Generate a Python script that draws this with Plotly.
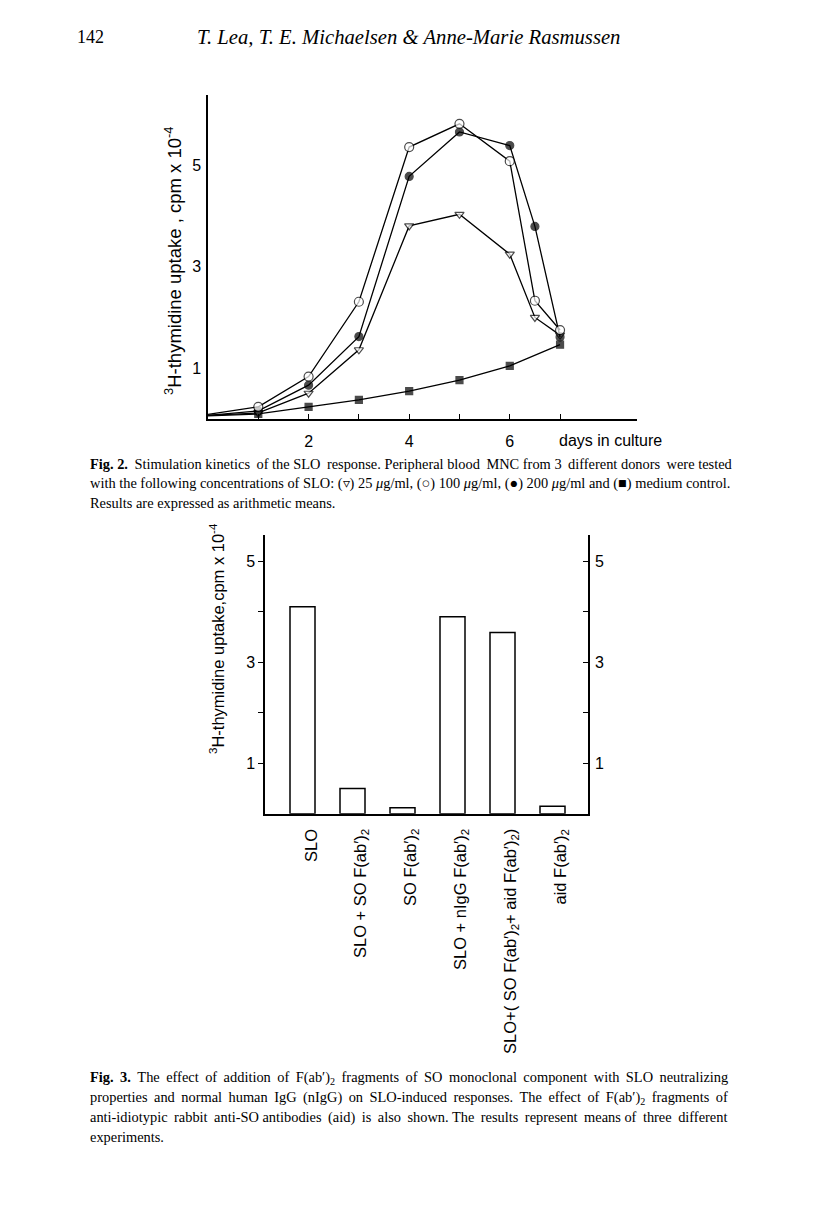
import plotly.graph_objects as go

# ---------------- data ----------------
# Fig. 2 : stimulation kinetics (cpm x 10^-4)
days_slo = [0, 1, 2, 3, 4, 5, 6, 6.5, 7]
slo_25 = [0.06, 0.11, 0.50, 1.36, 3.81, 4.04, 3.25, 2.00, 1.65]     # open triangle
slo_100 = [0.08, 0.23, 0.83, 2.31, 5.37, 5.83, 5.09, 2.33, 1.75]    # open circle
slo_200 = [0.06, 0.15, 0.66, 1.62, 4.79, 5.67, 5.40, 3.80, 1.61]    # filled circle
days_ctrl = [0, 1, 2, 3, 4, 5, 6, 7]
medium_ctrl = [0.05, 0.09, 0.23, 0.37, 0.54, 0.76, 1.04, 1.46]       # filled square

x1_major = [2, 4, 6]
x1_minor = [1, 3, 5, 7]
y_major = [1, 3, 5]
y_minor = [2, 4]

# Fig. 3 : bar chart
bar_labels = [
    "SLO",
    "SLO + SO F(ab′)<sub>2</sub>",
    "SO F(ab′)<sub>2</sub>",
    "SLO + nIgG F(ab′)<sub>2</sub>",
    "SLO+( SO F(ab′)<sub>2</sub>+ aid F(ab′)<sub>2</sub>)",
    "aid F(ab′)<sub>2</sub>",
]
bar_values = [4.10, 0.50, 0.12, 3.90, 3.59, 0.15]
bar_pos = list(range(len(bar_values)))

header_page = "142"
header_authors = "T. Lea, T. E. Michaelsen &amp; Anne-Marie Rasmussen"
title_fig2 = "<sup>3</sup>H-thymidine uptake , cpm x 10<sup>-4</sup>"
title_fig3 = "<sup>3</sup>H-thymidine uptake,cpm x 10<sup>-4</sup>"
cap2_lines = [
    "<b>Fig. 2.</b> Stimulation kinetics of the SLO response. Peripheral blood MNC from 3 different donors were tested",
    "with the following concentrations of SLO: (▿) 25 <i>μ</i>g/ml, (○) 100 <i>μ</i>g/ml, (●) 200 <i>μ</i>g/ml and (■) medium control.",
    "Results are expressed as arithmetic means.",
]
cap2_extra = [6, 0, 0]
cap3_lines = [
    "<b>Fig. 3.</b> The effect of addition of F(ab′)<sub>2</sub> fragments of SO monoclonal component with SLO neutralizing",
    "properties and normal human IgG (nIgG) on SLO-induced responses. The effect of F(ab′)<sub>2</sub> fragments of",
    "anti-idiotypic rabbit anti-SO antibodies (aid) is also shown. The results represent means of three different",
    "experiments.",
]
cap3_extra = [15, 14, 11, 0]   # thin spaces added to imitate justification

# ---------------- geometry helpers ----------------
W, H = 816, 1230
OFF = 8  # page body margin of the html
def px(x):
    return (x - OFF) / W
def py(y):
    return 1 - (y - OFF) / H

SANS = "Liberation Sans, Arial, Helvetica, sans-serif"
SERIF = "Liberation Serif, Times New Roman, serif"

def justify(line, n_extra):
    parts = line.split(" ")
    gaps = len(parts) - 1
    if n_extra <= 0 or gaps <= 0:
        return line
    out = parts[0]
    given = 0
    for g in range(gaps):
        want = round((g + 1) * n_extra / gaps)
        add = want - given
        given = want
        out += " " + "\u2009" * add + parts[g + 1]
    return out

fig = go.Figure()

line_style = dict(color="black", width=1.3)

def series(xv, yv, symbol, fill, size, name):
    sizes = [0] + [size] * (len(xv) - 1)
    fig.add_trace(go.Scatter(
        x=xv, y=yv, mode="lines+markers", name=name,
        line=line_style,
        marker=dict(symbol=symbol, size=sizes, color=fill,
                    line=dict(color="black", width=1.2)),
        xaxis="x", yaxis="y", showlegend=False, cliponaxis=False,
    ))

series(days_ctrl, medium_ctrl, "square", "black", 7, "medium control")
series(days_slo, slo_25, "triangle-down", "white", 8, "25 µg/ml")
series(days_slo, slo_200, "circle", "black", 8, "200 µg/ml")
series(days_slo, slo_100, "circle", "white", 9, "100 µg/ml")

fig.add_trace(go.Bar(
    x=bar_pos, y=bar_values, width=0.5,
    marker=dict(color="white", line=dict(color="black", width=1.5)),
    xaxis="x2", yaxis="y2", showlegend=False,
))
# empty trace so that the right-hand axis is drawn
fig.add_trace(go.Scatter(x=[None], y=[None], xaxis="x2", yaxis="y3", showlegend=False))

axis_common = dict(showgrid=False, zeroline=False, showline=True, linecolor="black",
                   linewidth=1.5, tickcolor="black", tickwidth=1.3,
                   tickfont=dict(family=SANS, size=16, color="black"))

fig.update_layout(
    width=W, height=H, margin=dict(l=0, r=0, t=0, b=0),
    paper_bgcolor="white", plot_bgcolor="white",
    xaxis=dict(domain=[px(208), px(637)], range=[0, 8.53], anchor="y",
               tickvals=x1_major, ticks="inside", ticklen=5, ticklabelstandoff=8,
               minor=dict(tickvals=x1_minor, ticks="inside", ticklen=5,
                          tickcolor="black", tickwidth=1.3, showgrid=False),
               **axis_common),
    yaxis=dict(domain=[py(418.5), py(95)], range=[0, 6.4], anchor="x",
               tickvals=y_major, ticks="", ticklabelstandoff=2, **axis_common),
    xaxis2=dict(domain=[px(265), px(588)], range=[-0.75, 5.71], anchor="y2",
                showticklabels=False, ticks="", **axis_common),
    yaxis2=dict(domain=[py(813.8), py(535)], range=[0, 5.52], anchor="x2",
                tickvals=y_major, ticks="outside", ticklen=5, ticklabelstandoff=0,
                minor=dict(tickvals=y_minor, ticks="outside", ticklen=5,
                           tickcolor="black", tickwidth=1.3, showgrid=False),
                **axis_common),
    yaxis3=dict(domain=[py(813.8), py(535)], range=[0, 5.52], overlaying="y2",
                side="right", anchor="x2",
                tickvals=y_major, ticks="inside", ticklen=5, ticklabelstandoff=2,
                minor=dict(tickvals=y_minor, ticks="inside", ticklen=5,
                           tickcolor="black", tickwidth=1.3, showgrid=False),
                **axis_common),
)

ann = []
# header
ann.append(dict(text=header_page, x=px(75), y=py(37), xref="paper", yref="paper",
                xanchor="left", yanchor="middle", showarrow=False,
                font=dict(family=SERIF, size=18, color="black")))
ann.append(dict(text="<i>" + header_authors + "</i>", x=px(195), y=py(37), xref="paper", yref="paper",
                xanchor="left", yanchor="middle", showarrow=False,
                font=dict(family=SERIF, size=20.7, color="black")))
# axis titles
ann.append(dict(text=title_fig2, textangle=-90,
                x=px(173), y=py(261), xref="paper", yref="paper", xanchor="center", yanchor="middle",
                showarrow=False, font=dict(family=SANS, size=18.5, color="black")))
ann.append(dict(text=title_fig3, textangle=-90,
                x=px(217), y=py(638), xref="paper", yref="paper", xanchor="center", yanchor="middle",
                showarrow=False, font=dict(family=SANS, size=16.5, color="black")))
ann.append(dict(text="days in culture", x=px(557), y=py(440), xref="paper", yref="paper",
                xanchor="left", yanchor="middle", showarrow=False,
                font=dict(family=SANS, size=16, color="black")))
# bar category labels
for i, lab in enumerate(bar_labels):
    ann.append(dict(text=lab, textangle=-90, x=bar_pos[i], xref="x2", xshift=8,
                    y=py(827), yref="paper", xanchor="center", yanchor="top",
                    showarrow=False, font=dict(family=SANS, size=16.5, color="black")))
# captions
for k, line in enumerate(cap2_lines):
    ann.append(dict(text=justify(line, cap2_extra[k]), x=px(88), y=py(464 + 19.5 * k),
                    xref="paper", yref="paper",
                    xanchor="left", yanchor="middle", showarrow=False,
                    font=dict(family=SERIF, size=14.4, color="black")))
for k, line in enumerate(cap3_lines):
    ann.append(dict(text=justify(line, cap3_extra[k]), x=px(88), y=py(1078 + 19.5 * k),
                    xref="paper", yref="paper",
                    xanchor="left", yanchor="middle", showarrow=False,
                    font=dict(family=SERIF, size=14.4, color="black")))

fig.update_layout(annotations=ann)
fig.write_html("out.html")
